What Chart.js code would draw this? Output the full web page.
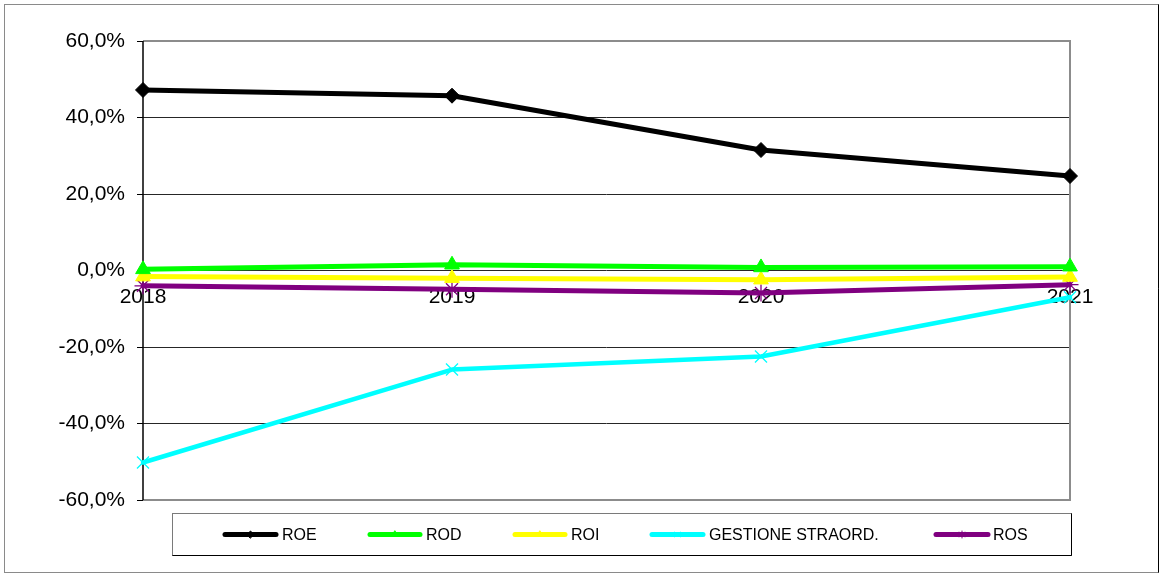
<!DOCTYPE html>
<html>
<head>
<meta charset="utf-8">
<script src="https://cdn.jsdelivr.net/npm/chart.js@4/dist/chart.umd.min.js"></script>
<style>
  body { margin: 0; background: #fff; }
  #wrap { width: 1160px; height: 574px; }
</style>
</head>
<body>
<div id="wrap"><canvas id="myChart" width="1160" height="574"></canvas></div>
<script>
/*
 * VARIABLES
 */
	var years = ['2018', '2019', '2020', '2021'];
	var roe = [47.2, 45.7, 31.5, 24.7];
	var rod = [0.3, 1.5, 0.8, 1.0];
	var roi = [-1.6, -2.0, -2.4, -1.7];
	var gestione = [-50.2, -25.9, -22.5, -7.0];
	var ros = [-4.0, -4.9, -5.9, -3.7];
	var yTicks = [-60, -40, -20, 0, 20, 40, 60];

	var seriesNames = ['ROE', 'ROD', 'ROI', 'GESTIONE STRAORD.', 'ROS'];
	var seriesColors = ['#000000', '#00FF00', '#FFFF00', '#00FFFF', '#800080'];
	var seriesPoints = ['rectRot', 'triangle', 'triangle', 'crossRot', 'star'];

	/* legend layout: line start, line end, text start */
	var legendSlots = [[223, 278, 282], [368, 422, 426], [513, 567, 571], [650, 705, 709], [934, 990, 993]];

	Chart.defaults.font.family = 'Arial, "Liberation Sans", sans-serif';
	Chart.defaults.color = '#000';

	function makeSet(i, values) {
		var cross = seriesPoints[i] == 'crossRot' || seriesPoints[i] == 'star';
		return {
			label: seriesNames[i],
			data: values,
			borderColor: seriesColors[i],
			backgroundColor: seriesColors[i],
			borderWidth: i == 3 ? 4.5 : 5,
			borderCapStyle: 'round',
			borderJoinStyle: 'round',
			pointStyle: seriesPoints[i],
			pointRadius: i == 0 ? 7.5 : 8.5,
			pointBorderWidth: cross ? 1.3 : 1,
			pointBorderColor: seriesColors[i],
			pointBackgroundColor: seriesColors[i],
			tension: 0,
			clip: false
		};
	}

/*
 * PLUGINS
 */
	/* FRAMES - outer border, plot border */
	var framePlugin = {
		id: 'frames',
		beforeDraw: function(chart) {
			var ctx = chart.ctx;
			ctx.save();
			ctx.fillStyle = '#fff';
			ctx.fillRect(0, 0, chart.width, chart.height);
			ctx.lineWidth = 1;
			ctx.strokeStyle = '#8a8a8a';
			ctx.strokeRect(4.5, 4.5, 1154, 568);
			ctx.strokeStyle = '#000';
			ctx.beginPath();
			ctx.moveTo(1158.5, 4.5);
			ctx.lineTo(1158.5, 572.5);
			ctx.stroke();
			ctx.restore();
		},
		beforeDatasetsDraw: function(chart) {
			var a = chart.chartArea;
			var ctx = chart.ctx;
			ctx.save();
			ctx.strokeStyle = '#8c8c8c';
			ctx.lineWidth = 2;
			ctx.beginPath();
			ctx.moveTo(a.left, a.top);
			ctx.lineTo(a.right, a.top);
			ctx.lineTo(a.right, a.bottom);
			ctx.lineTo(a.left, a.bottom);
			ctx.stroke();
			ctx.strokeStyle = '#000';
			ctx.lineWidth = 1.5;
			ctx.beginPath();
			ctx.moveTo(a.left, a.top);
			ctx.lineTo(a.left, a.bottom);
			ctx.stroke();
			ctx.restore();
		}
	};

	/* LEGEND - boxed legend under the plot */
	var legendPlugin = {
		id: 'boxLegend',
		afterDraw: function(chart) {
			var ctx = chart.ctx;
			var y = 534.5;
			ctx.save();
			ctx.lineWidth = 1;
			ctx.strokeStyle = '#7a7a7a';
			ctx.strokeRect(172.5, 513.5, 899, 42);
			ctx.strokeStyle = '#000';
			ctx.beginPath();
			ctx.moveTo(1071.5, 513.5);
			ctx.lineTo(1071.5, 555.5);
			ctx.lineTo(172.5, 555.5);
			ctx.stroke();

			ctx.font = '16px Arial, "Liberation Sans", sans-serif';
			ctx.textBaseline = 'middle';
			ctx.textAlign = 'left';
			chart.data.datasets.forEach(function(ds, i) {
				var s = legendSlots[i];
				ctx.strokeStyle = ds.borderColor;
				ctx.fillStyle = ds.borderColor;
				ctx.lineWidth = 5;
				ctx.lineCap = 'round';
				ctx.beginPath();
				ctx.moveTo(s[0] + 2, y);
				ctx.lineTo(s[1] - 2, y);
				ctx.stroke();
				ctx.lineWidth = 1;
				Chart.helpers.drawPoint(ctx, {
					pointStyle: ds.pointStyle,
					radius: 3.5,
					rotation: 0,
					borderWidth: 1
				}, (s[0] + s[1]) / 2, y);
				ctx.fillStyle = '#000';
				ctx.fillText(ds.label, s[2], y + 1);
			});
			ctx.restore();
		}
	};

/*
 * CHART
 */
	var myChart = new Chart(document.getElementById('myChart'), {
		type: 'line',
		data: {
			labels: years,
			datasets: [
				makeSet(0, roe),
				makeSet(1, rod),
				makeSet(2, roi),
				makeSet(3, gestione),
				makeSet(4, ros)
			]
		},
		options: {
			responsive: false,
			animation: false,
			devicePixelRatio: 1,
			layout: { padding: { top: 41, right: 90, bottom: 74, left: 0 } },
			plugins: {
				legend: { display: false },
				tooltip: { enabled: false }
			},
			scales: {
				x: {
					position: { y: 0 },
					offset: false,
					grid: { display: false, drawTicks: false },
					border: { display: false },
					ticks: {
						padding: 14,
						maxRotation: 0,
						autoSkip: false,
						font: { size: 21 }
					}
				},
				y: {
					min: -60,
					max: 60,
					afterFit: function(scale) { scale.width = 143; },
					afterBuildTicks: function(scale) {
						scale.ticks = yTicks.map(function(v) { return { value: v }; });
					},
					border: { display: false },
					grid: {
						color: function(c) {
							var v = c.tick ? c.tick.value : 0;
							return (v == 60 || v == -60) ? '#8c8c8c' : '#262626';
						},
						lineWidth: 1,
						tickLength: 6,
						tickColor: '#000'
					},
					ticks: {
						padding: 12,
						font: { size: 21 },
						callback: function(v) {
							return v.toFixed(1).replace('.', ',') + '%';
						}
					}
				}
			}
		},
		plugins: [framePlugin, legendPlugin]
	});
</script>
</body>
</html>
